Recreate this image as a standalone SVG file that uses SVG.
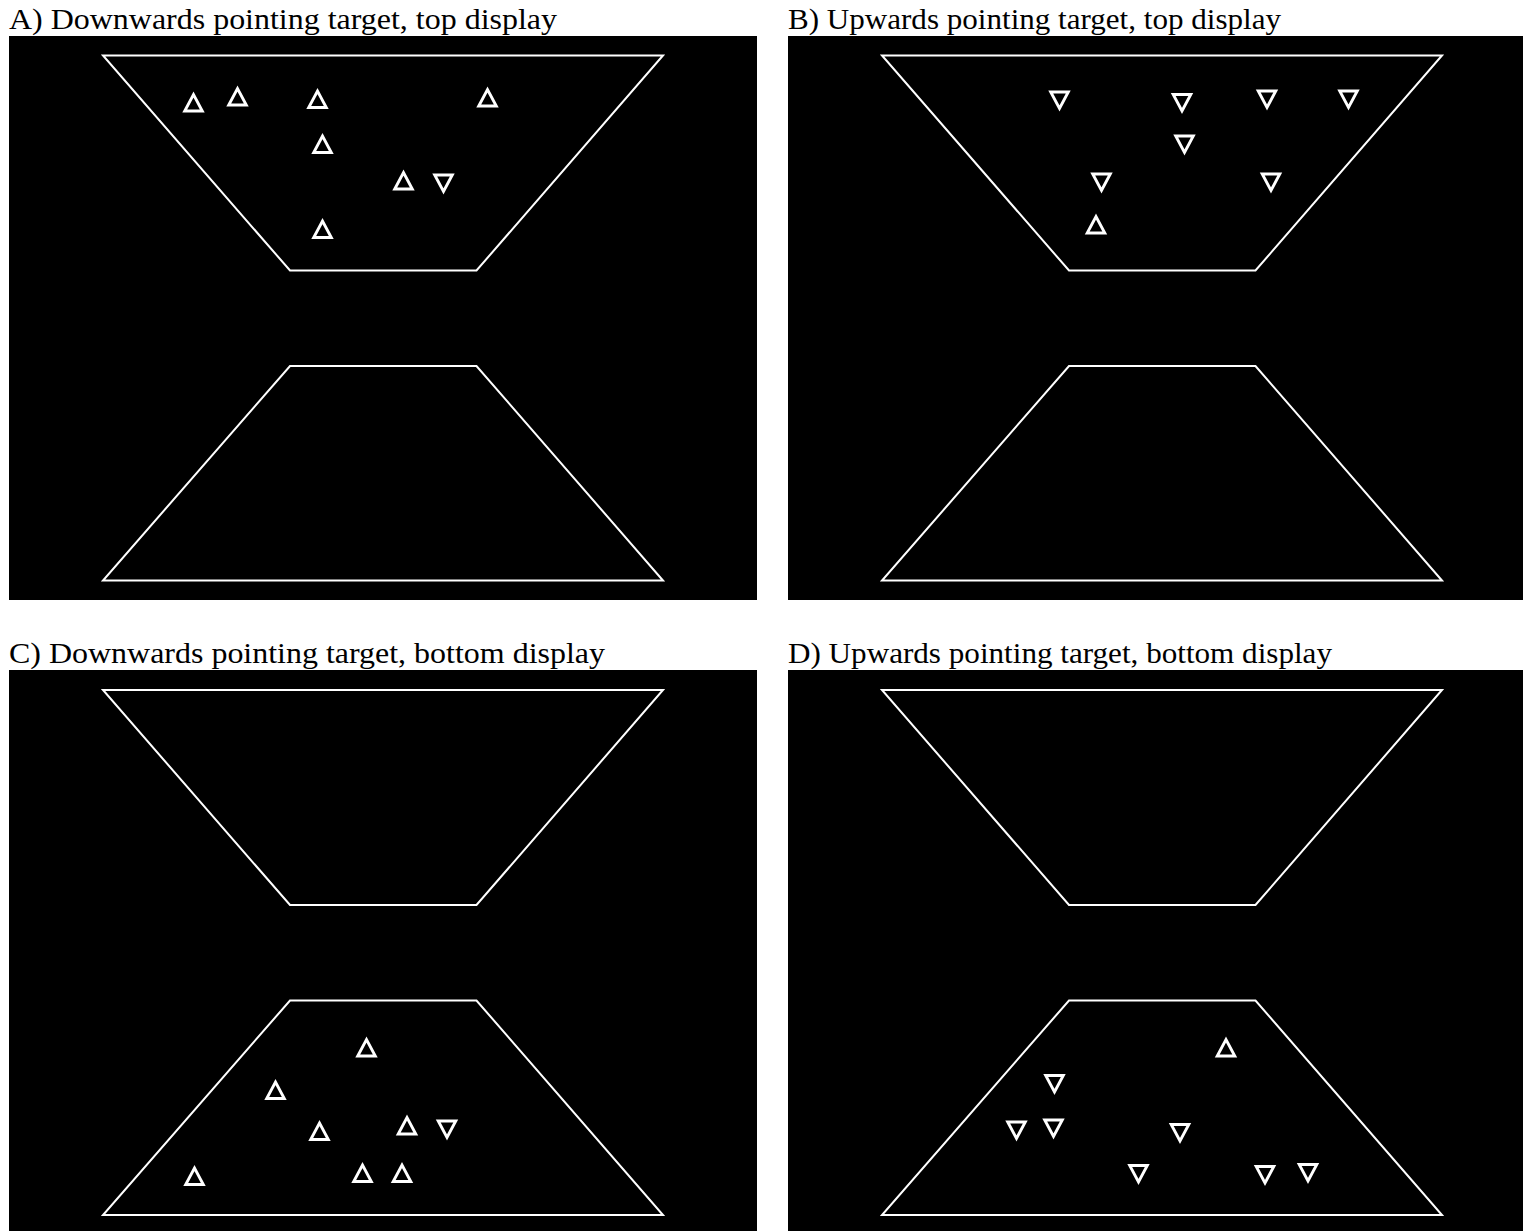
<svg xmlns="http://www.w3.org/2000/svg" width="1523" height="1231" viewBox="0 0 1523 1231">
  <style>
    .bg { fill: #000; }
    .lbl { font-family: "Liberation Serif", "Times New Roman", serif; font-size: 30px; fill: #000; }
    .trap { fill: none; stroke: #fff; stroke-width: 2; stroke-linejoin: miter; }
    .tri { fill: none; stroke: #fff; stroke-width: 2.9; stroke-linejoin: miter; }
  </style>
  <defs>
    <path id="up" class="tri" d="M-8.8,8 L8.8,8 L0,-8.5 Z"/>
    <path id="dn" class="tri" d="M-8.8,-8 L8.8,-8 L0,8.5 Z"/>
    <g id="frame">
      <path class="trap" d="M103,55.5 L663,55.5 L476.5,270.5 L290,270.5 Z"/>
      <path class="trap" d="M290,366 L476.5,366 L663,580.5 L103,580.5 Z"/>
    </g>
  </defs>
  <rect width="1523" height="1231" fill="#fff"/>

  <g id="panelA">
    <text class="lbl" x="9" y="29" textLength="548" lengthAdjust="spacingAndGlyphs">A) Downwards pointing target, top display</text>
    <rect class="bg" x="9" y="36" width="748" height="564"/>
    <use href="#frame"/>
    <use href="#up" x="193.5" y="103"/>
    <use href="#up" x="237.5" y="97"/>
    <use href="#up" x="317.5" y="99.5"/>
    <use href="#up" x="322.5" y="144.5"/>
    <use href="#up" x="487.5" y="98"/>
    <use href="#up" x="403.5" y="181"/>
    <use href="#dn" x="443.5" y="183"/>
    <use href="#up" x="322.5" y="229.5"/>
  </g>

  <g id="panelB">
    <text class="lbl" x="788" y="29" textLength="493" lengthAdjust="spacingAndGlyphs">B) Upwards pointing target, top display</text>
    <rect class="bg" x="788" y="36" width="735" height="564"/>
    <use href="#frame" x="779"/>
    <use href="#dn" x="1059.5" y="100"/>
    <use href="#dn" x="1182" y="102.5"/>
    <use href="#dn" x="1267" y="99"/>
    <use href="#dn" x="1348.5" y="99"/>
    <use href="#dn" x="1184.5" y="144"/>
    <use href="#dn" x="1101.5" y="182"/>
    <use href="#dn" x="1271" y="182"/>
    <use href="#up" x="1096" y="225"/>
  </g>

  <g id="panelC">
    <text class="lbl" x="9" y="663" textLength="596" lengthAdjust="spacingAndGlyphs">C) Downwards pointing target, bottom display</text>
    <rect class="bg" x="9" y="670" width="748" height="561"/>
    <use href="#frame" y="634.5"/>
    <use href="#up" x="366.5" y="1048"/>
    <use href="#up" x="275.5" y="1090.5"/>
    <use href="#up" x="319.5" y="1131.5"/>
    <use href="#up" x="407" y="1126"/>
    <use href="#dn" x="447" y="1129"/>
    <use href="#up" x="194.5" y="1176.5"/>
    <use href="#up" x="362.5" y="1173.5"/>
    <use href="#up" x="402" y="1173.5"/>
  </g>

  <g id="panelD">
    <text class="lbl" x="788" y="663" textLength="544" lengthAdjust="spacingAndGlyphs">D) Upwards pointing target, bottom display</text>
    <rect class="bg" x="788" y="670" width="735" height="561"/>
    <use href="#frame" x="779" y="634.5"/>
    <use href="#up" x="1226" y="1048"/>
    <use href="#dn" x="1054.5" y="1083.5"/>
    <use href="#dn" x="1016.5" y="1130"/>
    <use href="#dn" x="1053.5" y="1128"/>
    <use href="#dn" x="1180" y="1132.5"/>
    <use href="#dn" x="1138.5" y="1173.5"/>
    <use href="#dn" x="1265" y="1174.5"/>
    <use href="#dn" x="1308" y="1172.5"/>
  </g>
</svg>
